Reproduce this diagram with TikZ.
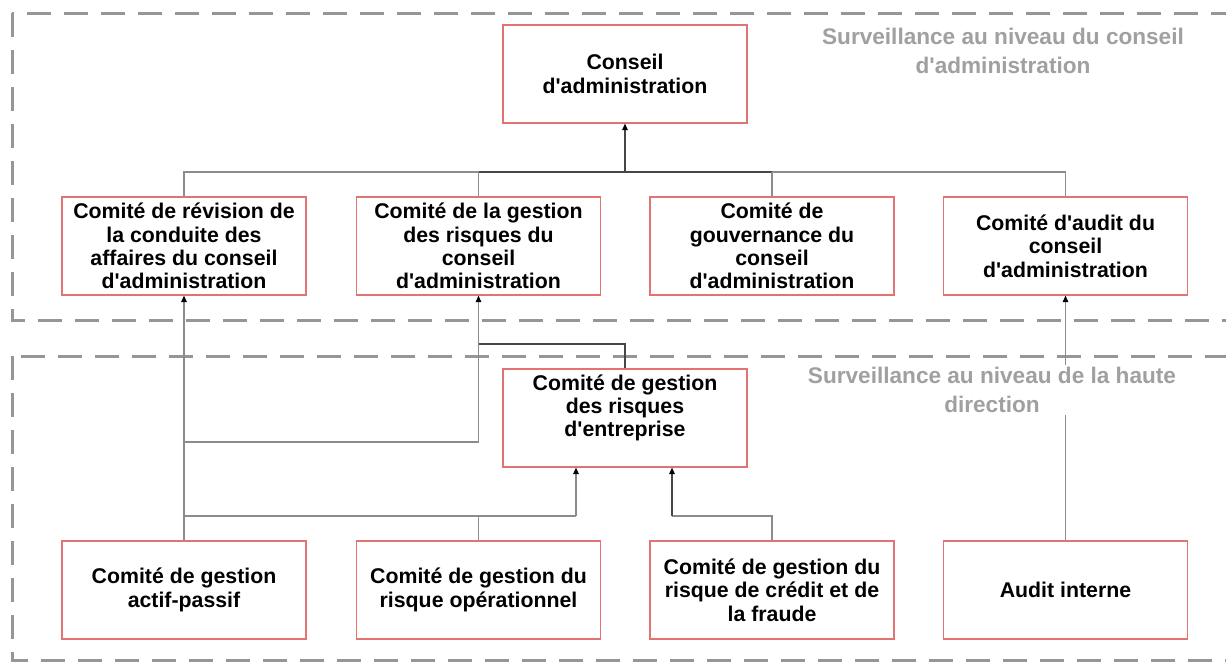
\documentclass[tikz,border=0pt]{standalone}
\usepackage{fontspec}
\setmainfont{Liberation Sans}[Ligatures=TeXOff]
\usetikzlibrary{arrows.meta}
\definecolor{boxred}{RGB}{226,115,115}
\definecolor{framegray}{RGB}{150,150,150}
\definecolor{conngray}{RGB}{140,140,140}
\definecolor{conndark}{RGB}{70,70,70}
\definecolor{lblgray}{RGB}{160,160,160}
\begin{document}
\begin{tikzpicture}[x=1pt,y=-1pt,
  box/.style={draw=boxred, line width=1.15pt, fill=white, minimum width=244pt, minimum height=98pt, inner sep=0pt, align=center, font=\fontsize{21.3}{23.3}\selectfont\bfseries},
  boxtext/.style={inner sep=0pt, align=center, font=\fontsize{21.3}{23.3}\selectfont\bfseries},
  frame/.style={draw=framegray, line width=3pt, dash pattern=on 24pt off 13pt},
  conn/.style={draw=conngray, line width=1.1pt},
  conndk/.style={draw=conndark, line width=1.1pt},
  arr/.style={-{Triangle[width=5.5pt,length=6.5pt,color=black]}},
  lbl/.style={text=lblgray, align=center, font=\fontsize{22.6}{29}\selectfont\bfseries, fill=white, inner sep=2pt}
]
\useasboundingbox (0,0) rectangle (1226,662);
\clip (0,0) rectangle (1226,662);
\fill[white] (0,0) rectangle (1226,662);

% frames
\draw[frame] (12,13) rectangle (1260,320);
\draw[frame] (12,356) rectangle (1260,660);

% boxes
\node[box] (cons) at (625,74) {Conseil\\d'administration};
\node[box] (A) at (184,246) {Comité de révision de\\la conduite des\\affaires du conseil\\d'administration};
\node[box] (B) at (478.5,246) {Comité de la gestion\\des risques du\\conseil\\d'administration};
\node[box] (C) at (772,246) {Comité de\\gouvernance du\\conseil\\d'administration};
\node[box] (D) at (1065.5,246) {Comité d'audit du\\conseil\\d'administration};
\node[box] (erm) at (625,418) {};
\node[boxtext] (ermt) at (625,408) {Comité de gestion\\des risques\\d'entreprise};
\node[box] (E) at (184,590) {Comité de gestion\\actif-passif};
\node[box] (F) at (478.5,590) {Comité de gestion du\\risque opérationnel};
\node[box] (G) at (772,590) {Comité de gestion du\\risque de crédit et de\\la fraude};
\node[box] (H) at (1065.5,590) {Audit interne};

% coordinates
\coordinate (j1) at (625,172);
\coordinate (j2) at (478.5,442);
\coordinate (j5) at (625,344);
\coordinate (j3) at (576,516);
\coordinate (j4) at (672,516);

% upper connectors
\draw[conn] (A.north) -- (A.north |- j1) -- (B.north |- j1);
\draw[conndk] (B.north |- j1) -- (C.north |- j1);
\draw[conn] (C.north |- j1) -- (D.north |- j1) -- (D.north);
\draw[conn] (B.north) -- (B.north |- j1);
\draw[conn] (C.north) -- (C.north |- j1);
\draw[conndk,arr] (j1) -- (cons.south);

% lower connectors
\draw[conn,arr] (E.north) -- (A.south);
\draw[conn] (E.north |- j2) -- (j2);
\draw[conn,arr] (j2) -- (B.south);
\draw[conndk] (erm.north) -- (j5) -- (j5 -| j2);
\draw[conn] (E.north |- j3) -- (j3);
\draw[conn,arr] (j3) -- (j3 |- erm.south);
\draw[conn] (F.north) -- (F.north |- j3);
\draw[conn] (G.north) -- (G.north |- j4) -- (j4);
\draw[conndk,arr] (j4) -- (j4 |- erm.south);
\draw[conn,arr] (H.north) -- (D.south);

% labels
\node[lbl] (l1) at (1003,51) {Surveillance au niveau du conseil\\d'administration};
\node[lbl] (l2) at (992,390) {Surveillance au niveau de la haute\\direction};
\end{tikzpicture}
\end{document}
